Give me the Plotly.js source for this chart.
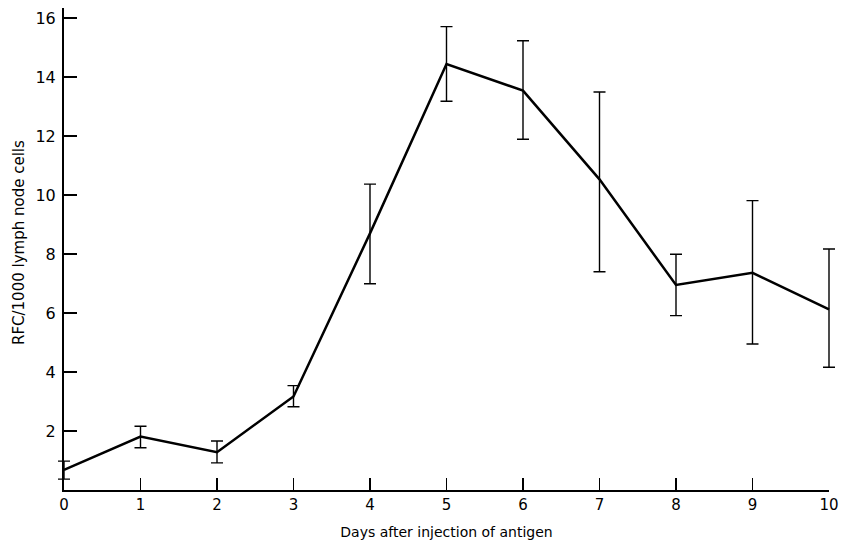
<!DOCTYPE html>
<html>
<head>
<meta charset="utf-8">
<script src="https://cdn.plot.ly/plotly-3.0.1.min.js"></script>
<style>html,body{margin:0;padding:0;background:#fff;}#chart{width:843px;height:550px;}</style>
</head>
<body>
<div id="chart"></div>
<script>
// Data
const days = [0, 1, 2, 3, 4, 5, 6, 7, 8, 9, 10];
const rfc = [0.68, 1.81, 1.28, 3.17, 8.7, 14.44, 13.54, 10.53, 6.95, 7.36, 6.12];
const errPlus = [0.3, 0.35, 0.38, 0.37, 1.67, 1.27, 1.69, 2.96, 1.04, 2.45, 2.05];
const errMinus = [0.31, 0.38, 0.36, 0.35, 1.71, 1.26, 1.65, 3.13, 1.04, 2.41, 1.96];
const xTicks = [0, 1, 2, 3, 4, 5, 6, 7, 8, 9, 10];
const yTicks = [2, 4, 6, 8, 10, 12, 14, 16];
const xTitle = "Days after injection of antigen";
const yTitle = "RFC/1000 lymph node cells";

const font = "DejaVu Sans, sans-serif";

// geometry: plot area 54..839 px; visible axis from x=0 at 64 px to x=10 at 829 px
const W = 843, ML = 54, MR = 4;
const plotW = W - ML - MR;
const axL = 64, axR = 829;
const pxPerUnit = (axR - axL) / (xTicks[xTicks.length - 1] - xTicks[0]);
const dataRange = [xTicks[0] - (axL - ML) / pxPerUnit, xTicks[xTicks.length - 1] + (ML + plotW - axR) / pxPerUnit];

const trace = {
  x: days,
  y: rfc,
  xaxis: "x",
  yaxis: "y",
  type: "scatter",
  mode: "lines",
  line: {color: "#000", width: 2.5},
  error_y: {
    type: "data",
    symmetric: false,
    array: errPlus,
    arrayminus: errMinus,
    color: "#000",
    thickness: 1.4,
    width: 6
  },
  hoverinfo: "skip",
  showlegend: false
};

// empty trace so the visible axis is drawn
const axisTrace = {x: [], y: [], xaxis: "x2", yaxis: "y", type: "scatter", mode: "lines", showlegend: false, hoverinfo: "skip"};

const layout = {
  width: W,
  height: 550,
  margin: {l: ML, r: MR, t: 8, b: 60},
  paper_bgcolor: "#fff",
  plot_bgcolor: "rgba(0,0,0,0)",
  font: {family: font, color: "#000"},
  xaxis: {
    domain: [0, 1],
    range: dataRange,
    visible: false,
    anchor: "y"
  },
  xaxis2: {
    domain: [(axL - ML) / plotW, (axR - ML) / plotW],
    anchor: "y",
    range: [0, 10],
    tickvals: xTicks,
    ticktext: xTicks.map(String),
    ticks: "inside",
    ticklen: 12,
    tickwidth: 1.5,
    tickcolor: "#000",
    showline: true,
    linecolor: "#000",
    linewidth: 2,
    showgrid: false,
    zeroline: false,
    tickfont: {size: 15, family: font, color: "#000"},
    title: {text: xTitle, font: {size: 14, family: font, color: "#000"}, standoff: 14}
  },
  yaxis: {
    anchor: "x2",
    range: [0, 16.34],
    tickvals: yTicks,
    ticktext: yTicks.map(String),
    ticks: "inside",
    ticklen: 13,
    tickwidth: 1.5,
    tickcolor: "#000",
    showline: true,
    linecolor: "#000",
    linewidth: 2,
    showgrid: false,
    zeroline: false,
    ticklabelstandoff: 3,
    tickfont: {size: 16, family: font, color: "#000"}
  },
  annotations: [{
    text: yTitle,
    xref: "paper",
    yref: "paper",
    x: (19 - ML) / plotW,
    y: (490 - 243) / 482,
    xanchor: "center",
    yanchor: "middle",
    textangle: -90,
    showarrow: false,
    font: {size: 15, family: font, color: "#000"}
  }]
};

Plotly.newPlot("chart", [trace, axisTrace], layout, {displayModeBar: false, staticPlot: true});
</script>
</body>
</html>
